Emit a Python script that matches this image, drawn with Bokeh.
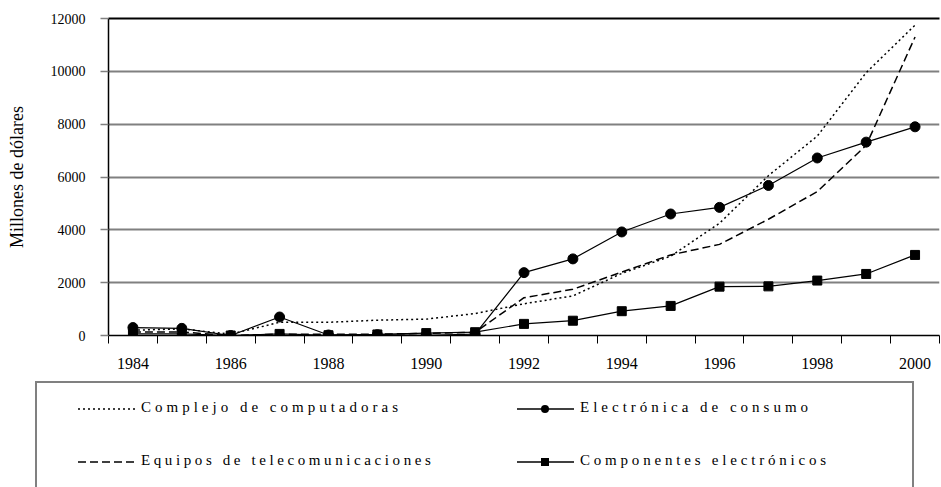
from bokeh.plotting import figure
from bokeh.models import (FixedTicker, LinearAxis, Range1d, ColumnDataSource,
                          Div)
from bokeh.layouts import column
from bokeh.embed import file_html
from bokeh.resources import INLINE

# ---- data (millones de dólares) ----
years = list(range(1984, 2001))
computadoras = [200, 250, 50, 500, 500, 580, 620, 830, 1200, 1500, 2350, 3000,
                4250, 6050, 7550, 9950, 11750]
electronica = [300, 270, 0, 700, 20, 30, 10, 50, 2380, 2900, 3920, 4600,
               4850, 5680, 6720, 7320, 7900]
telecom = [130, 130, 0, 50, 50, 50, 80, 120, 1430, 1750, 2400, 3050,
           3450, 4400, 5450, 7200, 11300]
componentes = [60, 60, 0, 60, 10, 40, 90, 125, 440, 560, 920, 1120,
               1850, 1860, 2080, 2330, 3050]
y_ticks = [0, 2000, 4000, 6000, 8000, 10000, 12000]
x_label_years = [1984, 1986, 1988, 1990, 1992, 1994, 1996, 1998, 2000]
series_names = ["Complejo de computadoras", "Electrónica de consumo",
                "Equipos de telecomunicaciones", "Componentes electrónicos"]
y_title = "Millones de dólares"

FONT = "Liberation Serif"
GRID = "#808080"

src = ColumnDataSource(dict(year=years, computadoras=computadoras,
                            electronica=electronica, telecom=telecom,
                            componentes=componentes))

boundaries = [y - 0.5 for y in years] + [years[-1] + 0.5]

p = figure(width=941, height=380, x_range=Range1d(1983.5, 2000.5),
           y_range=Range1d(0, 12000), output_backend="svg",
           toolbar_location=None, min_border_left=108, min_border_right=2,
           min_border_top=18, min_border_bottom=45)
p.outline_line_color = None
p.xgrid.visible = False
p.ygrid.ticker = FixedTicker(ticks=y_ticks)
p.ygrid.grid_line_color = GRID
p.ygrid.grid_line_width = 2

# x axis: category boundaries as tick marks, labels every two years
xa = p.xaxis[0]
xa.ticker = FixedTicker(ticks=x_label_years, minor_ticks=boundaries)
xa.major_tick_out = 0
xa.major_tick_in = 0
xa.minor_tick_out = 8
xa.minor_tick_in = 0
xa.minor_tick_line_color = "black"
xa.axis_line_color = "black"
xa.axis_line_width = 1.5
xa.major_label_standoff = 14
xa.major_label_text_font = FONT
xa.major_label_text_font_size = "16px"
xa.major_label_text_color = "black"

ya = p.yaxis[0]
ya.ticker = FixedTicker(ticks=y_ticks)
ya.minor_tick_line_color = None
ya.major_tick_out = 8
ya.major_tick_in = 0
ya.major_tick_line_color = GRID
ya.major_tick_line_width = 1.5
ya.axis_line_color = "black"
ya.axis_line_width = 1.5
ya.major_label_standoff = 15
ya.major_label_text_font = FONT
ya.major_label_text_font_size = "14px"
ya.major_label_text_color = "black"
ya.axis_label = y_title
ya.axis_label_text_font = FONT
ya.axis_label_text_font_size = "18px"
ya.axis_label_text_font_style = "normal"
ya.axis_label_text_color = "black"
ya.axis_label_standoff = 21

top = LinearAxis(ticker=FixedTicker(ticks=[]), axis_line_color="black",
                 axis_line_width=2, major_tick_out=0, major_tick_in=0,
                 minor_tick_out=0, minor_tick_in=0, major_label_standoff=0)
p.add_layout(top, "above")

p.line("year", "computadoras", source=src, line_color="black",
       line_width=1.5, line_dash="2 3")
p.line("year", "telecom", source=src, line_color="black",
       line_width=1.5, line_dash="8 4")
p.line("year", "electronica", source=src, line_color="black", line_width=1.2)
p.scatter("year", "electronica", source=src, marker="circle", size=10,
          color="black")
p.line("year", "componentes", source=src, line_color="black", line_width=1.2)
p.scatter("year", "componentes", source=src, marker="square", size=9,
          color="black")

# ---- legend panel (boxed, two columns, letter-spaced labels) ----
def key_svg(dash, marker):
    parts = ['<svg width="57" height="12" style="display:block">',
             '<line x1="0" y1="6" x2="57" y2="6" stroke="black" '
             'stroke-width="1.4"' +
             (' stroke-dasharray="%s"' % dash if dash else '') + '/>']
    if marker == "circle":
        parts.append('<circle cx="28" cy="6" r="4" fill="black"/>')
    elif marker == "square":
        parts.append('<rect x="24" y="2" width="8" height="8" fill="black"/>')
    parts.append('</svg>')
    return "".join(parts)


def item(label, left, row_top, dash, marker, spacing):
    return (
        '<div style="position:absolute;left:%dpx;top:%dpx;">%s</div>'
        % (left, row_top + 6, key_svg(dash, marker)) +
        '<div style="position:absolute;left:%dpx;top:%dpx;height:20px;'
        'line-height:20px;font-size:15px;letter-spacing:%.1fpx;'
        'white-space:nowrap;color:black;">%s</div>'
        % (left + 63, row_top, spacing, label))


legend_html = (
    '<div style="position:relative;width:941px;height:107px;overflow:hidden;'
    'font-family:\'Liberation Serif\',serif;">'
    '<div style="position:absolute;left:35px;top:1px;width:879px;'
    'height:200px;box-sizing:border-box;border:2px solid %s;"></div>' % GRID +
    item(series_names[0], 78, 17, "2 3", None, 4.0) +
    item(series_names[2], 78, 70, "8 4", None, 3.6) +
    item(series_names[1], 517, 17, None, "circle", 4.0) +
    item(series_names[3], 517, 70, None, "square", 3.8) +
    '</div>')

legend_div = Div(text=legend_html, width=941, height=107, margin=0)

layout = column(p, legend_div, spacing=0)
open("out.html", "w").write(file_html(layout, INLINE))
